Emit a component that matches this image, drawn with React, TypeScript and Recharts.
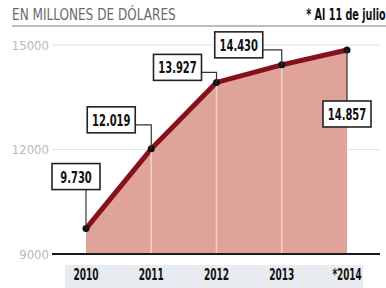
import React from 'react';
import { AreaChart, Area, XAxis, YAxis, CartesianGrid, ReferenceLine, LabelList } from 'recharts';

// Exportaciones, en millones de dólares
const years = ['2010', '2011', '2012', '2013', '*2014'];
const values = [9730, 12019, 13927, 14430, 14857];
const yTicks = [9000, 12000, 15000];

const data = years.map((year, i) => ({ year, value: values[i] }));

const COND = '"DejaVu Sans Condensed", "Liberation Sans", sans-serif';

// where each value box sits relative to its point
const placements = [
  { dx: -10, dy: -52, leader: 'up' },
  { dx: -40, dy: -29, leader: 'elbow' },
  { dx: -39, dy: -15, leader: 'elbow' },
  { dx: -43, dy: -20, leader: 'elbow' },
  { dx: 0, dy: 64, leader: 'down' },
];

const BOX_W = 48;
const BOX_H = 26;

const formatValue = (n: number) => {
  const thousands = Math.floor(n / 1000);
  const rest = String(n % 1000).padStart(3, '0');
  return `${thousands}.${rest}`;
};

// squeeze text to look like the narrow newspaper face
const squeezedWidth = (s: string, digit: number, dot: number) =>
  s.split('').reduce((w, c) => w + (c === '.' ? dot : c === '*' ? dot + 1 : digit), 0);

const ValueBox = (props: any) => {
  const { x, y, value } = props;
  const index = props.index ?? values.indexOf(value);
  const p = placements[index];
  if (!p) return null;
  const cx = x + p.dx;
  const cy = y + p.dy;
  const left = cx - BOX_W / 2;
  const top = cy - BOX_H / 2;
  const label = formatValue(value);

  let leader;
  if (p.leader === 'elbow') {
    const ly = cy + 5;
    leader = (
      <polyline
        points={`${left + BOX_W},${ly} ${x},${ly} ${x},${y}`}
        fill="none"
        stroke="#333"
        strokeWidth={1.2}
      />
    );
  } else if (p.leader === 'up') {
    leader = <line x1={x} y1={top + BOX_H} x2={x} y2={y} stroke="#333" strokeWidth={1.2} />;
  } else {
    leader = <line x1={x} y1={y} x2={x} y2={top} stroke="#333" strokeWidth={1.2} />;
  }

  return (
    <g>
      {leader}
      <rect x={left} y={top} width={BOX_W} height={BOX_H} fill="#fff" stroke="#222" strokeWidth={1.6} />
      <text
        x={cx}
        y={cy + 6}
        textAnchor="middle"
        fontFamily={COND}
        fontWeight="bold"
        fontSize={16}
        fill="#111"
        textLength={squeezedWidth(label, 7, 3.5)}
        lengthAdjust="spacingAndGlyphs"
      >
        {label}
      </text>
    </g>
  );
};

const YearTick = (props: any) => {
  const { x, y, payload } = props;
  const label = String(payload.value);
  return (
    <text
      x={x}
      y={y + 11}
      textAnchor="middle"
      fontFamily={COND}
      fontWeight="bold"
      fontSize={15}
      fill="#111"
      textLength={squeezedWidth(label, 6.3, 3)}
      lengthAdjust="spacingAndGlyphs"
    >
      {label}
    </text>
  );
};

export default function App() {
  return (
    <div style={{ position: 'absolute', left: 0, top: 0, width: 386, height: 288, background: '#fff' }}>
      {/* Header */}
      <div
        style={{
          position: 'absolute', left: 12, top: 8, fontFamily: COND, fontSize: 15,
          lineHeight: '15px', color: '#6a6a6a', whiteSpace: 'nowrap',
          transform: 'scaleX(0.895)', transformOrigin: 'left',
        }}
      >
        EN MILLONES DE DÓLARES
      </div>
      <div
        style={{
          position: 'absolute', right: 0, top: 7, fontFamily: COND, fontSize: 16,
          lineHeight: '16px', fontWeight: 'bold', color: '#111', whiteSpace: 'nowrap',
          transform: 'scaleX(0.67)', transformOrigin: 'right',
        }}
      >
        * Al 11 de julio
      </div>
      <div style={{ position: 'absolute', left: 12, top: 25, width: 374, height: 2, background: '#bcbcbc' }} />

      {/* Band behind year labels */}
      <div style={{ position: 'absolute', left: 65, top: 265, width: 298, height: 23, background: '#e8ebef' }} />

      <div style={{ position: 'absolute', left: 0, top: 0 }}>
        <AreaChart width={386} height={288} data={data} margin={{ top: 45, right: 6, bottom: 0, left: 0 }}>
          <CartesianGrid vertical={false} stroke="#e2e2e2" strokeWidth={1.2} />
          <XAxis
            dataKey="year"
            height={34}
            padding={{ left: 34, right: 33 }}
            axisLine={{ stroke: '#1a1a1a', strokeWidth: 2 }}
            tickLine={false}
            tickSize={0}
            tickMargin={15}
            tick={<YearTick />}
            interval={0}
          />
          <YAxis
            domain={[9000, 15000]}
            ticks={yTicks}
            width={52}
            axisLine={false}
            tickLine={false}
            tickSize={0}
            tickMargin={3}
            tick={{ fontFamily: COND, fontSize: 13, fill: '#b8b8b8' }}
          />
          <Area
            type="linear"
            dataKey="value"
            stroke="#84111c"
            strokeWidth={5}
            fill="#dfa39a"
            fillOpacity={1}
            dot={{ r: 3.5, fill: '#111', stroke: '#111', strokeWidth: 0 }}
            activeDot={false}
            isAnimationActive={false}
          >
            <LabelList dataKey="value" content={ValueBox} />
          </Area>
          {data.slice(1, -1).map((d) => (
            <ReferenceLine
              key={d.year}
              segment={[{ x: d.year, y: yTicks[0] }, { x: d.year, y: d.value }]}
              stroke="#f2d2cc"
              strokeWidth={1.5}
            />
          ))}
        </AreaChart>
      </div>
    </div>
  );
}
